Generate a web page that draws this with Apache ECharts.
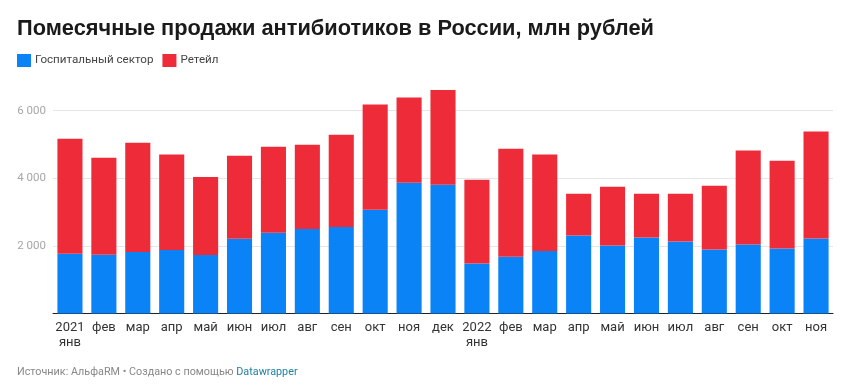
<!DOCTYPE html>
<html>
<head>
<meta charset="utf-8">
<script src="https://cdn.jsdelivr.net/npm/echarts@6/dist/echarts.min.js"></script>
<style>
  html, body { margin: 0; padding: 0; background: #ffffff; }
  #chart { width: 849px; height: 389px; }
</style>
</head>
<body>
<div id="chart"></div>
<script>
const categories = ['2021\nянв','фев','мар','апр','май','июн','июл','авг','сен','окт','ноя','дек',
                    '2022\nянв','фев','мар','апр','май','июн','июл','авг','сен','окт','ноя'];
const hospital = [1770,1740,1820,1880,1730,2210,2390,2500,2560,3070,3870,3810,
                  1480,1680,1850,2310,2010,2250,2130,1890,2040,1920,2220];
const retail   = [3400,2870,3230,2820,2310,2460,2540,2490,2730,3110,2520,2800,
                  2480,3190,2850,1230,1740,1290,1410,1890,2780,2600,3160];
const seriesNames = ['Госпитальный сектор', 'Ретейл'];
const yTicks = [0, 2000, 4000, 6000];

const chart = echarts.init(document.getElementById('chart'), null, { renderer: 'canvas' });
chart.setOption({
  backgroundColor: '#ffffff',
  animation: false,
  title: [{
    text: 'Помесячные продажи антибиотиков в России, млн рублей',
    left: 17, top: 18, padding: 0,
    textStyle: { fontFamily: 'Liberation Sans', fontWeight: 'bold', fontSize: 21.8, color: '#1a1a1a' }
  }, {
    text: '{a|Источник: АльфаRM • Создано с помощью }{b|Datawrapper}',
    left: 17, top: 367, padding: 0,
    textStyle: {
      fontWeight: 'normal',
      rich: {
        a: { fontFamily: 'Roboto', fontWeight: 'normal', fontSize: 10.8, color: '#888888' },
        b: { fontFamily: 'Roboto', fontWeight: 'normal', fontSize: 10.8, color: '#1d81a2' }
      }
    }
  }],
  legend: {
    data: seriesNames,
    left: 17, top: 54, padding: 0,
    icon: 'rect', itemWidth: 14, itemHeight: 13, itemGap: 9,
    textStyle: { fontFamily: 'Roboto', fontSize: 11.6, color: '#444444', padding: [0, 0, 0, -1] }
  },
  grid: { left: 53, right: 16, top: 87, bottom: 75.5 },
  xAxis: {
    type: 'category',
    data: categories,
    axisLine: { show: true, lineStyle: { color: '#222222', width: 1 } },
    axisTick: { show: false },
    axisLabel: {
      fontFamily: 'Roboto', fontSize: 13, color: '#333333', margin: 7, lineHeight: 15,
      interval: 0
    }
  },
  yAxis: {
    type: 'value',
    min: 0, max: 6700, interval: 2000,
    axisLine: { show: false },
    axisTick: { show: false },
    axisLabel: {
      fontFamily: 'Roboto', fontSize: 11.5, color: '#a6a6a6', margin: 7,
      formatter: function (v) {
        if (yTicks.indexOf(v) < 0 || v === 0) return '';
        return String(v).replace(/\B(?=(\d{3})+(?!\d))/g, ' ');
      }
    },
    splitLine: { show: true, lineStyle: { color: ['#e6e6e6','#e6e6e6','#e6e6e6','#e6e6e6','rgba(0,0,0,0)'], width: 1 } }
  },
  series: [{
    name: seriesNames[0],
    type: 'bar', stack: 'total',
    data: hospital,
    barCategoryGap: '26%',
    itemStyle: { color: '#0a83f7' }
  }, {
    name: seriesNames[1],
    type: 'bar', stack: 'total',
    data: retail,
    barCategoryGap: '26%',
    itemStyle: { color: '#ee2c39' }
  }]
});
</script>
</body>
</html>
